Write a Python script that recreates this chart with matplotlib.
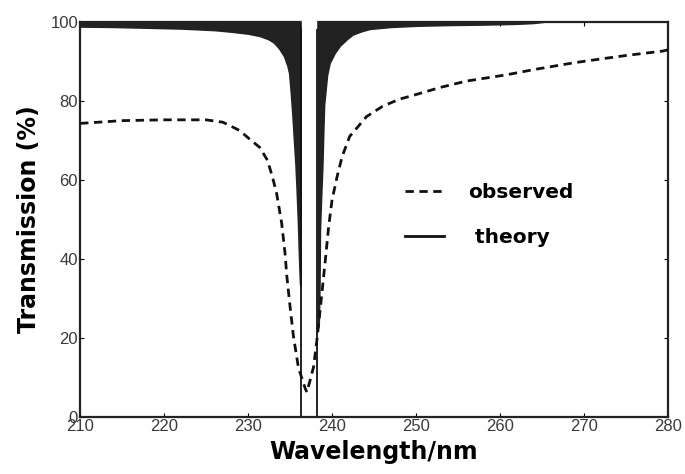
import numpy as np
import matplotlib.pyplot as plt
from matplotlib.lines import Line2D

# observed transmission (dashed)
obs_wl = [210, 215, 220, 225, 227, 229, 230.2, 231.4, 232.3, 232.9, 233.4, 234.0,
          234.4, 234.6, 235.0, 235.4, 236.0, 236.8, 237.0, 237.4, 237.8, 238.2,
          238.6, 238.8, 239.2, 239.6, 240.0, 240.6, 241.2, 242.1, 244.1, 246,
          248, 250, 252.9, 256, 260.8, 264, 268.7, 272, 275.1, 279.4, 280]
obs_tr = [74.3, 75.0, 75.2, 75.2, 74.6, 72.5, 70.3, 68.2, 65.0, 60.8, 56.6, 49.1,
          41.5, 36.0, 28.0, 20.5, 12.5, 7.3, 6.3, 9.4, 12.7, 19.5,
          27.5, 31.5, 39.7, 48.2, 54.9, 60.8, 65.9, 71.0, 76.0, 78.6,
          80.4, 81.6, 83.4, 85.0, 86.6, 87.9, 89.6, 90.6, 91.5, 92.6, 92.9]

# theory: lower envelope of the fast oscillation, left and right of the gap
th_left_wl = [210, 214, 218, 222, 226, 228, 230, 231.4, 232.4, 233.0, 233.6, 234.2,
              234.6, 234.8, 235.0, 235.2, 235.4, 235.55, 235.7, 235.85, 235.95, 236.05,
              236.1, 236.35]
th_left_tr = [98.6, 98.5, 98.3, 98.1, 97.7, 97.3, 96.8, 96.2, 95.4, 94.6, 93.2, 91.2,
              88.8, 87.0, 82.0, 76.0, 69.0, 64.0, 57.0, 49.0, 42.0, 36.0,
              33.5, 33.0]
th_right_wl = [238.25, 238.5, 238.55, 238.6, 238.65, 238.8, 238.95, 239.05, 239.15,
               239.5, 239.8, 240.4, 241.0, 241.8, 242.5, 243.5, 244.5, 247, 250, 254,
               258, 262, 264, 266]
th_right_tr = [22.0, 23.0, 27.0, 33.0, 47.0, 56.0, 64.0, 72.0, 79.0,
               86.5, 89.5, 92.0, 93.8, 95.4, 96.6, 97.4, 98.0, 98.5, 98.8, 99.0,
               99.1, 99.3, 99.5, 100]

xticks = [210, 220, 230, 240, 250, 260, 270, 280]
yticks = [0, 20, 40, 60, 80, 100]

plt.rcParams['font.family'] = ['Liberation Sans', 'DejaVu Sans']

fig = plt.figure(figsize=(6.85, 4.74), dpi=100)
ax = fig.add_axes([0.117, 0.120, 0.858, 0.834])

dark = '#222222'
ax.fill_between(th_left_wl, th_left_tr, 100, color=dark, lw=0, zorder=2)
ax.fill_between(th_right_wl, th_right_tr, 100, color=dark, lw=0, zorder=2)
ax.vlines([th_left_wl[-1], th_right_wl[0]], 0, 100, color='#111111', lw=1.3, zorder=2)
# the gap between the two edges is open at the top
ax.axvspan(th_left_wl[-1] + 0.12, th_right_wl[0] - 0.12, ymin=0.985, ymax=1.01,
           color='white', zorder=3, clip_on=False)

ax.plot(obs_wl, obs_tr, color='#111111', lw=2.0, ls=(0, (3, 2)), zorder=4)

ax.set_xlim(210, 280)
ax.set_ylim(0, 100)
ax.set_xticks(xticks)
ax.set_yticks(yticks)
ax.tick_params(direction='in', length=3, width=0.8, top=True, right=True,
               labelsize=12, labelcolor='#3a3a3a', pad=1.5)
for s in ax.spines.values():
    s.set_linewidth(1.6)
    s.set_color('#222222')

bold = {'family': 'DejaVu Sans', 'weight': 'bold', 'size': 17}
ax.set_xlabel('Wavelength/nm', fontdict=bold, labelpad=4)
ax.set_ylabel('Transmission (%)', fontdict=bold, labelpad=7)

handles = [Line2D([], [], color='#111111', lw=2.0, ls=(0, (3, 2))),
           Line2D([], [], color='#111111', lw=2.0)]
ax.legend(handles, ['observed', ' theory'], loc='upper left',
          bbox_to_anchor=(0.536, 0.618), frameon=False, handlelength=1.9,
          handletextpad=1.2, labelspacing=1.3, borderpad=0,
          prop={'family': 'DejaVu Sans', 'weight': 'bold', 'size': 14.5})

fig.savefig('out.png', dpi=100)
